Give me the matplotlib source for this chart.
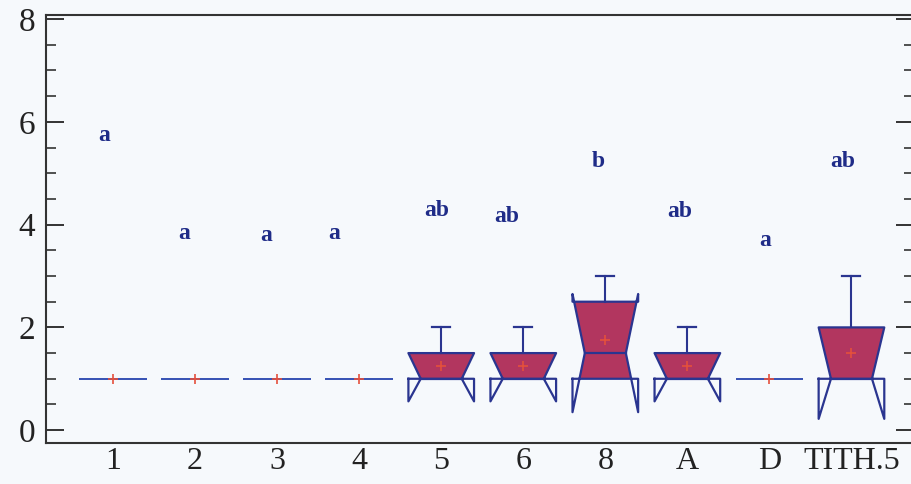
import numpy as np
import matplotlib.pyplot as plt
from matplotlib.patches import Rectangle

# box statistics per group
groups = ['1', '2', '3', '4', '5', '6', '8', 'A', 'D', 'TITH.5']
q1 = [1, 1, 1, 1, 1, 1, 1, 1, 1, 1]
medians = [1, 1, 1, 1, 1, 1, 1.5, 1, 1, 1]
q3 = [1, 1, 1, 1, 1.5, 1.5, 2.5, 1.5, 1, 2]
whis_hi = [1, 1, 1, 1, 2, 2, 3, 2, 1, 3]
notch_lo = [1, 1, 1, 1, 0.56, 0.56, 0.35, 0.56, 1, 0.22]
notch_hi = [1, 1, 1, 1, 1.5, 1.5, 2.65, 1.5, 1, 2.0]
means = [1, 1, 1, 1, 1.25, 1.25, 1.75, 1.25, 1, 1.5]

# multiple range test letters
letters = ['a', 'a', 'a', 'a', 'ab', 'ab', 'b', 'ab', 'a', 'ab']
letter_x = [0.89, 1.87, 2.87, 3.70, 4.95, 5.80, 6.91, 7.91, 8.95, 9.89]
letter_y = [5.73, 3.82, 3.78, 3.82, 4.27, 4.15, 5.22, 4.25, 3.70, 5.22]

navy = '#2a3590'
fill_col = '#b2365f'
bg = '#f6f9fc'

plt.rcParams['font.family'] = ['Liberation Serif', 'DejaVu Serif']

fig = plt.figure(figsize=(9.12, 4.84), dpi=100, facecolor=bg)
ax = fig.add_axes([46/912, 41/484, 1.002 - 46/912, 428/484], facecolor=bg)

width = 0.80
nhalf = 0.25
capw = 0.22
pos = np.arange(1, len(groups) + 1)

for i, x in enumerate(pos):
    L, R = x - width/2, x + width/2
    nL, nR = x - nhalf, x + nhalf
    xs = [L, L, nL, L, L, R, R, nR, R, R, L]
    ys = [q1[i], notch_lo[i], medians[i], notch_hi[i], q3[i],
          q3[i], notch_hi[i], medians[i], notch_lo[i], q1[i], q1[i]]
    flat = q3[i] == q1[i]
    # filled part only between the quartiles
    if not flat:
        poly = ax.fill(xs, ys, color=fill_col, lw=0, zorder=2)[0]
        clip = Rectangle((L, q1[i]), width, q3[i] - q1[i], transform=ax.transData)
        poly.set_clip_path(clip)
    ax.plot(xs, ys, color='#3a55b5' if flat else navy,
            lw=1.3 if flat else 1.6, zorder=3)
    # median line across the notch
    ax.plot([nL, nR], [medians[i], medians[i]], color='#3a55b5' if flat else navy,
            lw=1.3 if flat else 1.6, zorder=3)
    if whis_hi[i] > q3[i]:
        ax.plot([x, x], [q3[i], whis_hi[i]], color=navy, lw=1.5, zorder=3)
        ax.plot([x - capw/2, x + capw/2], [whis_hi[i], whis_hi[i]],
                color=navy, lw=1.6, zorder=3)

ax.plot(pos, means, ls='none', marker='+', ms=7, mew=1.2,
        color='#e4503c', zorder=4)

for lx, ly, t in zip(letter_x, letter_y, letters):
    ax.text(lx, ly, t, ha='center', va='center', fontsize=17,
            fontweight='bold', color='#1f2c88')

ax.set_xlim(0.183, 10.76)
ax.set_ylim(-0.25, 8.08)
ax.set_xticks(pos)
ax.set_xticklabels(groups)
ax.set_yticks([0, 2, 4, 6, 8])
ax.set_yticks(np.arange(0, 8.01, 0.5), minor=True)
ax.tick_params(axis='y', which='major', direction='in', length=13, width=1.4,
               right=True, labelsize=24, colors='#333333', labelcolor='#222222', pad=8)
ax.tick_params(axis='y', which='minor', direction='in', length=7, width=1.2,
               right=True, colors='#333333')
ax.tick_params(axis='x', length=0, labelsize=23, labelcolor='#222222', pad=3)
for s in ax.spines.values():
    s.set_color('#333333')
    s.set_linewidth(1.5)

fig.savefig('out.png', dpi=100, facecolor=bg)
